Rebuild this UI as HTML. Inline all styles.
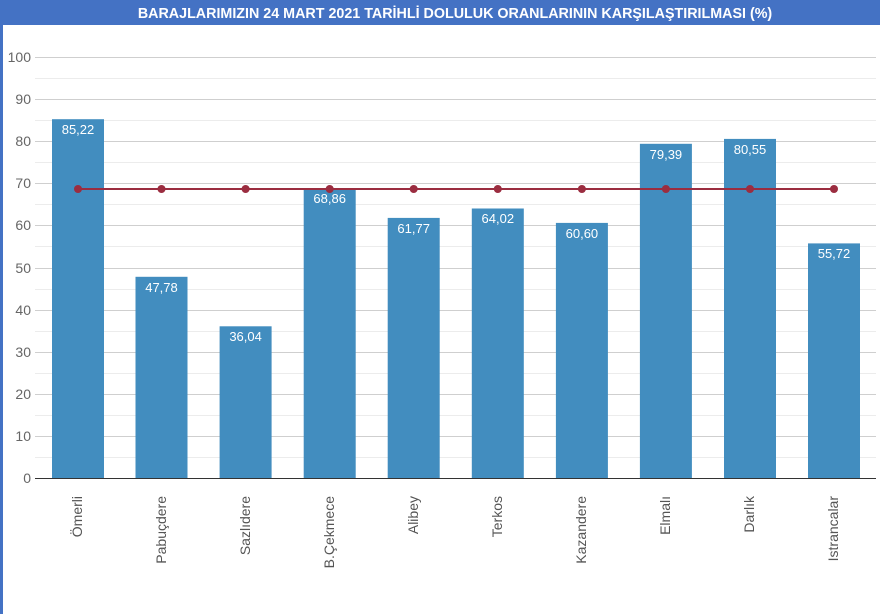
<!DOCTYPE html>
<html><head><meta charset="utf-8"><style>
html,body{margin:0;padding:0;background:#fff;width:880px;height:614px;overflow:hidden}
svg{display:block}
</style></head><body>
<svg width="880" height="614" xmlns="http://www.w3.org/2000/svg" font-family="Liberation Sans, Arial, sans-serif">
<rect x="0" y="0" width="880" height="25" fill="#4472c4"/>
<rect x="0" y="0" width="3" height="614" fill="#4472c4"/>
<text x="455" y="18" text-anchor="middle" fill="#fff" font-size="14.3" font-weight="bold">BARAJLARIMIZIN 24 MART 2021 TARİHLİ DOLULUK ORANLARININ KARŞILAŞTIRILMASI (%)</text>
<g stroke="#ececec" stroke-width="1">
<line x1="35" x2="876" y1="78.5" y2="78.5"/><line x1="35" x2="876" y1="120.5" y2="120.5"/><line x1="35" x2="876" y1="162.5" y2="162.5"/><line x1="35" x2="876" y1="204.5" y2="204.5"/><line x1="35" x2="876" y1="246.5" y2="246.5"/><line x1="35" x2="876" y1="289.5" y2="289.5"/><line x1="35" x2="876" y1="331.5" y2="331.5"/><line x1="35" x2="876" y1="373.5" y2="373.5"/><line x1="35" x2="876" y1="415.5" y2="415.5"/><line x1="35" x2="876" y1="457.5" y2="457.5"/>
</g>
<g stroke="#cfcfcf" stroke-width="1">
<line x1="35" x2="876" y1="57.5" y2="57.5"/><line x1="35" x2="876" y1="99.5" y2="99.5"/><line x1="35" x2="876" y1="141.5" y2="141.5"/><line x1="35" x2="876" y1="183.5" y2="183.5"/><line x1="35" x2="876" y1="225.5" y2="225.5"/><line x1="35" x2="876" y1="268.5" y2="268.5"/><line x1="35" x2="876" y1="310.5" y2="310.5"/><line x1="35" x2="876" y1="352.5" y2="352.5"/><line x1="35" x2="876" y1="394.5" y2="394.5"/><line x1="35" x2="876" y1="436.5" y2="436.5"/>
</g>
<g fill="#666" font-size="14" text-anchor="end">
<text x="31" y="62">100</text><text x="31" y="104">90</text><text x="31" y="146">80</text><text x="31" y="188">70</text><text x="31" y="230">60</text><text x="31" y="273">50</text><text x="31" y="315">40</text><text x="31" y="357">30</text><text x="31" y="399">20</text><text x="31" y="441">10</text><text x="31" y="483">0</text>
</g>
<g fill="#428dbf">
<rect x="52" y="119.2" width="52" height="358.8"/>
<rect x="135.5" y="276.8" width="52" height="201.2"/>
<rect x="219.6" y="326.3" width="52" height="151.7"/>
<rect x="303.7" y="188.1" width="52" height="289.9"/>
<rect x="387.7" y="217.9" width="52" height="260.1"/>
<rect x="471.8" y="208.5" width="52" height="269.5"/>
<rect x="555.9" y="222.9" width="52" height="255.1"/>
<rect x="639.9" y="143.8" width="52" height="334.2"/>
<rect x="724" y="138.9" width="52" height="339.1"/>
<rect x="808" y="243.4" width="52" height="234.6"/>
</g>
<line x1="35" x2="876" y1="478.5" y2="478.5" stroke="#333" stroke-width="1"/>
<g fill="#fff" font-size="13" text-anchor="middle">
<text x="78" y="134">85,22</text><text x="161.5" y="292">47,78</text><text x="245.6" y="341">36,04</text><text x="329.7" y="203">68,86</text><text x="413.7" y="233">61,77</text><text x="497.8" y="223">64,02</text><text x="581.9" y="238">60,60</text><text x="665.9" y="159">79,39</text><text x="750" y="154">80,55</text><text x="834" y="258">55,72</text>
</g>
<polyline points="78,189 161.5,189 245.6,189 329.7,189 413.7,189 497.8,189 581.9,189 665.9,189 750,189 834,189" fill="none" stroke="#9b2d40" stroke-width="2"/>
<g fill="#9b2d40">
<circle cx="78" cy="189" r="4"/><circle cx="161.5" cy="189" r="4"/><circle cx="245.6" cy="189" r="4"/><circle cx="329.7" cy="189" r="4"/><circle cx="413.7" cy="189" r="4"/><circle cx="497.8" cy="189" r="4"/><circle cx="581.9" cy="189" r="4"/><circle cx="665.9" cy="189" r="4"/><circle cx="750" cy="189" r="4"/><circle cx="834" cy="189" r="4"/>
</g>
<g fill="#555" font-size="14" text-anchor="end">
<text transform="translate(82,496) rotate(-90)">Ömerli</text>
<text transform="translate(166,496) rotate(-90)">Pabuçdere</text>
<text transform="translate(250,496) rotate(-90)">Sazlıdere</text>
<text transform="translate(334,496) rotate(-90)">B.Çekmece</text>
<text transform="translate(418,496) rotate(-90)">Alibey</text>
<text transform="translate(502,496) rotate(-90)">Terkos</text>
<text transform="translate(586,496) rotate(-90)">Kazandere</text>
<text transform="translate(670,496) rotate(-90)">Elmalı</text>
<text transform="translate(754,496) rotate(-90)">Darlık</text>
<text transform="translate(838,496) rotate(-90)">Istrancalar</text>
</g>
</svg>
</body></html>
